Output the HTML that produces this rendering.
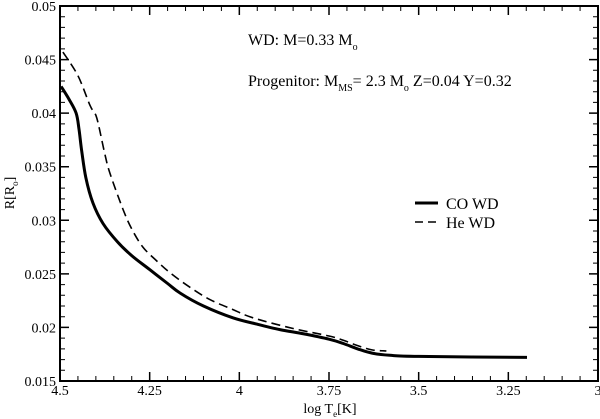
<!DOCTYPE html>
<html><head><meta charset="utf-8"><style>
body{margin:0;background:#fff;}
svg{display:block;}
text{font-family:"Liberation Serif","DejaVu Serif",serif;}
</style></head><body>
<svg id="chart" width="600" height="419" xmlns="http://www.w3.org/2000/svg">
<g id="ticks"></g>
<g id="series"></g>
<rect x="60" y="6" width="538" height="375" fill="none" stroke="#000" stroke-width="2"/>
<text transform="translate(14,193) rotate(-90)" text-anchor="middle" font-size="14">R[R<tspan font-size="9" dy="4">o</tspan><tspan dy="-4">]</tspan></text>
<text x="330" y="413" text-anchor="middle" font-size="14">log T<tspan font-size="9" dy="4">e</tspan><tspan dy="-4">[K]</tspan></text>
<text x="248" y="45" font-size="16">WD: M=0.33 M<tspan font-size="10" dy="5">o</tspan></text>
<text x="248" y="86" font-size="16">Progenitor: M<tspan font-size="10" dy="5">MS</tspan><tspan dy="-5">= 2.3 M</tspan><tspan font-size="10" dy="5">o</tspan><tspan dy="-5"> Z=0.04 Y=0.32</tspan></text>
<g>
<line x1="415" y1="203" x2="438" y2="203" stroke="#000" stroke-width="3"/>
<text x="446" y="209" font-size="16">CO WD</text>
<line x1="415" y1="222" x2="438" y2="222" stroke="#000" stroke-width="1.6" stroke-dasharray="8,5"/>
<text x="446" y="228" font-size="16">He WD</text>
</g>
</svg>
<script>
const xTicks=[4.5,4.25,4,3.75,3.5,3.25,3];
const xTickLabels=["4.5","4.25","4","3.75","3.5","3.25","3"];
const yTicks=[0.015,0.02,0.025,0.03,0.035,0.04,0.045,0.05];
const yTickLabels=["0.015","0.02","0.025","0.03","0.035","0.04","0.045","0.05"];
const coLogT=[4.497,4.475,4.455,4.447,4.44,4.428,4.408,4.38,4.34,4.30,4.25,4.20,4.165,4.10,4.018,3.95,3.887,3.82,3.75,3.71,3.67,3.63,3.58,3.5,3.198];
const coR=[0.0425,0.0413,0.0400,0.0385,0.0366,0.0340,0.0316,0.0297,0.0280,0.0267,0.0254,0.0241,0.0232,0.0220,0.0209,0.0203,0.0198,0.0194,0.0189,0.0185,0.0180,0.0176,0.0174,0.0173,0.0172];
const heLogT=[4.492,4.45,4.416,4.40,4.39,4.375,4.361,4.324,4.30,4.269,4.23,4.193,4.14,4.082,4.02,3.962,3.85,3.75,3.71,3.67,3.63,3.59];
const heR=[0.0457,0.0435,0.0407,0.0398,0.0385,0.0362,0.0344,0.0310,0.0292,0.0275,0.0262,0.0251,0.0238,0.0226,0.0217,0.0209,0.0199,0.0192,0.0188,0.0183,0.0179,0.0178];

const X0=60,X1=598,Y0=381,Y1=6;
const xs=v=>X0+(4.5-v)/1.5*(X1-X0);
const ys=v=>Y0-(v-0.015)/0.035*(Y0-Y1);
const NS="http://www.w3.org/2000/svg";
const tg=document.getElementById('ticks'), sg=document.getElementById('series');
function mk(tag,attrs,parent){const e=document.createElementNS(NS,tag);for(const k in attrs)e.setAttribute(k,attrs[k]);parent.appendChild(e);return e;}
for(let i=0;i<xTicks.length;i++){
  const x=xs(xTicks[i]);
  const t=mk('path',{d:`M${x},${Y0}v-9M${x},${Y1}v9`,stroke:'#000','stroke-width':1.5},tg);
  
  
  const l=mk('text',{x:x,y:Y0+14,'text-anchor':'middle','font-size':14},tg);
  l.textContent=xTickLabels[i];
  
  
  if(i<xTicks.length-1){for(let m=1;m<5;m++){const xm=xs(xTicks[i]-0.05*m);
    const mt=mk('path',{d:`M${xm},${Y0}v-5M${xm},${Y1}v5`,stroke:'#000','stroke-width':1},tg);
    
    }}
}
for(let i=0;i<yTicks.length;i++){
  const y=ys(yTicks[i]);
  const t=mk('path',{d:`M${X0},${y}h9M${X1},${y}h-9`,stroke:'#000','stroke-width':1.5},tg);
  
  
  const l=mk('text',{x:X0-4,y:y+5,'text-anchor':'end','font-size':14},tg);
  l.textContent=yTickLabels[i];
  
  
  if(i<yTicks.length-1){for(let m=1;m<5;m++){const ym=ys(yTicks[i]+0.001*m);
    const mt=mk('path',{d:`M${X0},${ym}h5M${X1},${ym}h-5`,stroke:'#000','stroke-width':1},tg);
    
    }}
}
function smooth(a,b){
  const p=a.map((v,i)=>[xs(v),ys(b[i])]);
  let d=`M${p[0][0].toFixed(1)},${p[0][1].toFixed(1)}`;
  for(let i=0;i<p.length-1;i++){
    const p0=p[Math.max(0,i-1)],p1=p[i],p2=p[i+1],p3=p[Math.min(p.length-1,i+2)];
    const c1=[p1[0]+(p2[0]-p0[0])/6,p1[1]+(p2[1]-p0[1])/6];
    const c2=[p2[0]-(p3[0]-p1[0])/6,p2[1]-(p3[1]-p1[1])/6];
    d+=`C${c1[0].toFixed(1)},${c1[1].toFixed(1)} ${c2[0].toFixed(1)},${c2[1].toFixed(1)} ${p2[0].toFixed(1)},${p2[1].toFixed(1)}`;
  }
  return d;
}
const co=mk('path',{d:smooth(coLogT,coR),fill:'none',stroke:'#000','stroke-width':3,'stroke-linejoin':'round'},sg);


const he=mk('path',{d:smooth(heLogT,heR),fill:'none',stroke:'#000','stroke-width':1.6,'stroke-dasharray':'9,5'},sg);


</script>
</body></html>
